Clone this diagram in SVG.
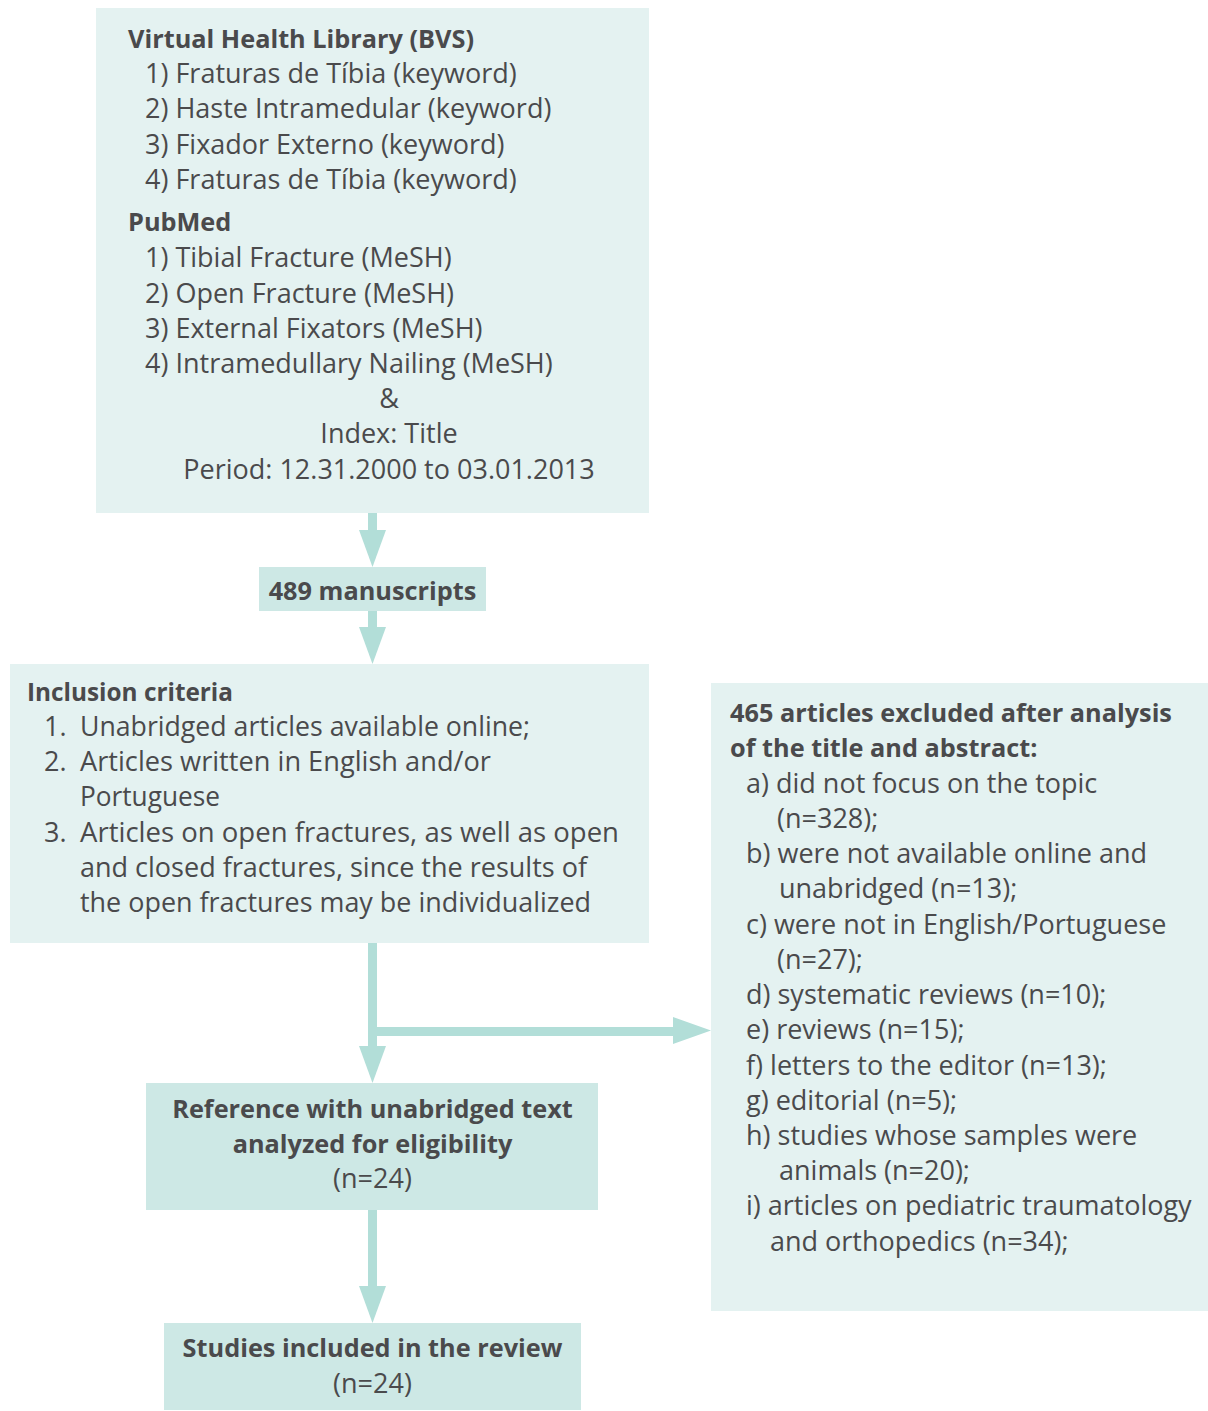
<svg xmlns="http://www.w3.org/2000/svg" width="1208" height="1411" viewBox="0 0 1208 1411">
<style>
.light{fill:#e4f2f1}
.dark{fill:#cde8e5}
.arr{fill:#b2ded8}
text{font-family:"Open Sans","Noto Sans","Liberation Sans",sans-serif;fill:#4a4a4c;font-size:27px}
.b{font-weight:bold;font-size:25.3px}
.m{text-anchor:middle}
</style>
<rect width="1208" height="1411" fill="#ffffff"/>
<g id="connectors">
<rect class="arr" x="368" y="513" width="9" height="19"/>
<polygon class="arr" points="359,530 386,530 372.5,567"/>
<rect class="arr" x="368" y="611" width="9" height="18"/>
<polygon class="arr" points="359,627 386,627 372.5,664"/>
<rect class="arr" x="368" y="943" width="9" height="105"/>
<polygon class="arr" points="359,1046 386,1046 372.5,1083"/>
<rect class="arr" x="376" y="1027" width="299" height="9"/>
<polygon class="arr" points="673,1017 673,1044 711,1030.5"/>
<rect class="arr" x="368" y="1210" width="9" height="78"/>
<polygon class="arr" points="359,1286 386,1286 372.5,1323"/>
</g>
<g id="search">
<rect class="light" x="96" y="8" width="553" height="505"/>
<text class="b" x="128" y="48">Virtual Health Library (BVS)</text>
<text x="145" y="83">1) Fraturas de Tíbia (keyword)</text>
<text x="145" y="118">2) Haste Intramedular (keyword)</text>
<text x="145" y="154">3) Fixador Externo (keyword)</text>
<text x="145" y="189">4) Fraturas de Tíbia (keyword)</text>
<text class="b" x="128" y="231">PubMed</text>
<text x="145" y="267">1) Tibial Fracture (MeSH)</text>
<text x="145" y="303">2) Open Fracture (MeSH)</text>
<text x="145" y="338">3) External Fixators (MeSH)</text>
<text x="145" y="373">4) Intramedullary Nailing (MeSH)</text>
<text class="m" x="389" y="408">&amp;</text>
<text class="m" x="389" y="443">Index: Title</text>
<text class="m" x="389" y="479">Period: 12.31.2000 to 03.01.2013</text>
</g>
<g id="manuscripts">
<rect class="dark" x="259" y="567" width="227" height="44"/>
<text class="b m" x="372.5" y="600">489 manuscripts</text>
</g>
<g id="inclusion">
<rect class="light" x="10" y="664" width="639" height="279"/>
<text class="b" x="27" y="701" textLength="206" lengthAdjust="spacingAndGlyphs">Inclusion criteria</text>
<text x="44" y="736">1.</text>
<text x="80" y="736" textLength="450" lengthAdjust="spacingAndGlyphs">Unabridged articles available online;</text>
<text x="44" y="771">2.</text>
<text x="80" y="771" textLength="411" lengthAdjust="spacingAndGlyphs">Articles written in English and/or</text>
<text x="80" y="806" textLength="140" lengthAdjust="spacingAndGlyphs">Portuguese</text>
<text x="44" y="842">3.</text>
<text x="80" y="842" textLength="539" lengthAdjust="spacingAndGlyphs">Articles on open fractures, as well as open</text>
<text x="80" y="877" textLength="507" lengthAdjust="spacingAndGlyphs">and closed fractures, since the results of</text>
<text x="80" y="912" textLength="511" lengthAdjust="spacingAndGlyphs">the open fractures may be individualized</text>
</g>
<g id="excluded">
<rect class="light" x="711" y="683" width="497" height="628"/>
<text class="b" x="730" y="722">465 articles excluded after analysis</text>
<text class="b" x="730" y="757">of the title and abstract:</text>
<text x="746" y="793">a) did not focus on the topic</text>
<text x="777" y="828">(n=328);</text>
<text x="746" y="863">b) were not available online and</text>
<text x="779" y="898">unabridged (n=13);</text>
<text x="746" y="934">c) were not in English/Portuguese</text>
<text x="777" y="969">(n=27);</text>
<text x="746" y="1004">d) systematic reviews (n=10);</text>
<text x="746" y="1039">e) reviews (n=15);</text>
<text x="746" y="1075">f) letters to the editor (n=13);</text>
<text x="746" y="1110">g) editorial (n=5);</text>
<text x="746" y="1145">h) studies whose samples were</text>
<text x="779" y="1180">animals (n=20);</text>
<text x="746" y="1215">i) articles on pediatric traumatology</text>
<text x="770" y="1251">and orthopedics (n=34);</text>
</g>
<g id="eligibility">
<rect class="dark" x="146" y="1083" width="452" height="127"/>
<text class="b m" x="372.5" y="1118">Reference with unabridged text</text>
<text class="b m" x="372.5" y="1153">analyzed for eligibility</text>
<text class="m" x="372.5" y="1188">(n=24)</text>
</g>
<g id="included">
<rect class="dark" x="164" y="1323" width="417" height="87"/>
<text class="b m" x="372.5" y="1357">Studies included in the review</text>
<text class="m" x="372.5" y="1393">(n=24)</text>
</g>
</svg>
